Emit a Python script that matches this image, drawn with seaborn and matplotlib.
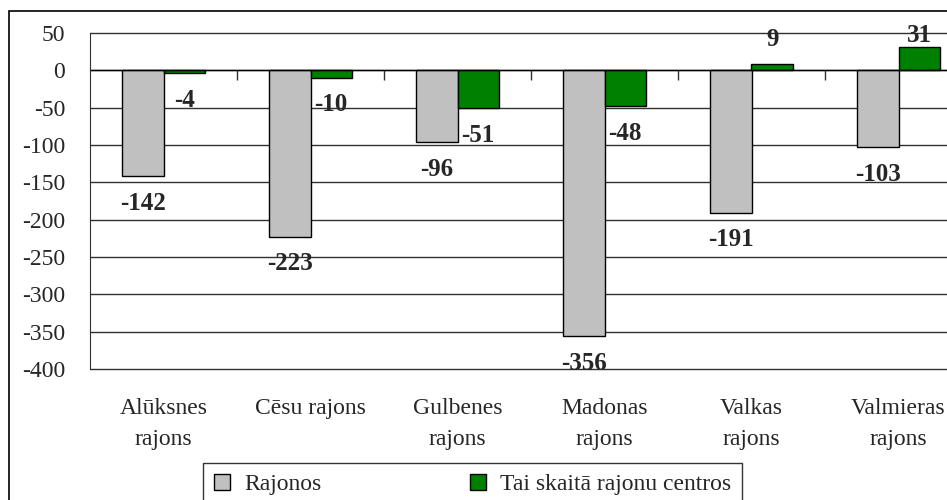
import pandas as pd
import seaborn as sns
import matplotlib.pyplot as plt
from matplotlib.patches import Rectangle, Patch

districts = ["Alūksnes\nrajons", "Cēsu rajons", "Gulbenes\nrajons",
             "Madonas\nrajons", "Valkas\nrajons", "Valmieras\nrajons"]
rajonos = [-142, -223, -96, -356, -191, -103]
centros = [-4, -10, -51, -48, 9, 31]
series_names = ["Rajonos", "Tai skaitā rajonu centros"]
colors = ["#c0c0c0", "#008000"]
yticks = [50, 0, -50, -100, -150, -200, -250, -300, -350, -400]

df = pd.DataFrame({
    "district": districts * 2,
    "value": rajonos + centros,
    "series": [series_names[0]] * len(districts) + [series_names[1]] * len(districts),
})

sns.set_style("white")
plt.rcParams["font.family"] = ["Liberation Serif", "DejaVu Serif"]

fig = plt.figure(figsize=(9.47, 5.0), dpi=100)
# outer chart border (cut at right/bottom edge like the source)
fig.patches.append(Rectangle((9 / 947, -0.1), 1.2, 1 - 11 / 500 + 0.1,
                             transform=fig.transFigure, fill=False,
                             edgecolor="black", linewidth=1.2, zorder=0))

ax_h = 336
ax = fig.add_axes([90 / 947, 131 / 500, 882 / 947, ax_h / 500])
sns.barplot(data=df, x="district", y="value", hue="series", order=districts,
            hue_order=series_names, palette=colors, width=0.56, dodge=True,
            edgecolor="black", linewidth=1, saturation=1, legend=False, ax=ax)

ymin, ymax = -400, 50
ax.set_ylim(ymin, ymax)
ax.set_yticks(yticks)
ax.set_yticklabels([str(v) for v in yticks], fontsize=17)
ax.yaxis.grid(True, color="#303030", linewidth=1)
for gl in ax.get_ygridlines():
    gl.set_clip_on(False)
ax.set_axisbelow(True)
for s in ["top", "right", "bottom"]:
    ax.spines[s].set_visible(False)
ax.spines["left"].set_color("#303030")
ax.tick_params(axis="y", length=8, width=1, color="#303030", direction="out", pad=10)
ax.tick_params(axis="x", length=0, pad=21, labelsize=17)
for t in ax.get_xticklabels():
    t.set_linespacing(1.6)
ax.set_xlabel("")
ax.set_ylabel("")
ax.set_xlim(-0.5, len(districts) - 0.5)

# category axis at zero with ticks between categories
ax.axhline(0, color="black", linewidth=1, zorder=1)
sec = ax.secondary_xaxis(-ymin / (ymax - ymin))
sec.set_xticks([i + 0.5 for i in range(len(districts) - 1)])
sec.set_xticklabels([])
sec.tick_params(length=7, width=1, direction="in", color="#303030")
sec.spines["bottom"].set_visible(False)
sec.spines["top"].set_visible(False)

# value labels (kept inside the plot area at the top, like Excel does)
px_per_unit = ax_h / (ymax - ymin)
for cont in ax.containers:
    for bar in cont:
        h = bar.get_height()
        x = bar.get_x() + bar.get_width() / 2
        if h < 0:
            off = -27
        else:
            off = min(24, (ymax - h) * px_per_unit - 2)
        ax.annotate(f"{h:.0f}", (x, h), xytext=(0, off), textcoords="offset pixels",
                    ha="center", va="center", fontsize=18, fontweight="bold")

handles = [Patch(facecolor=c, edgecolor="black", linewidth=1) for c in colors]
leg = fig.legend(handles, series_names, loc="upper left",
                 bbox_to_anchor=(203 / 947, 1 - 463 / 500 - 0.1, 539 / 947, 0.1),
                 mode="expand", ncol=2, fontsize=17,
                 frameon=True, fancybox=False, edgecolor="black", borderaxespad=0,
                 handlelength=0.7, handleheight=0.7, handletextpad=0.6,
                 columnspacing=2.6, borderpad=0.45)
leg.get_frame().set_linewidth(1)

fig.savefig("out.png", dpi=100)
